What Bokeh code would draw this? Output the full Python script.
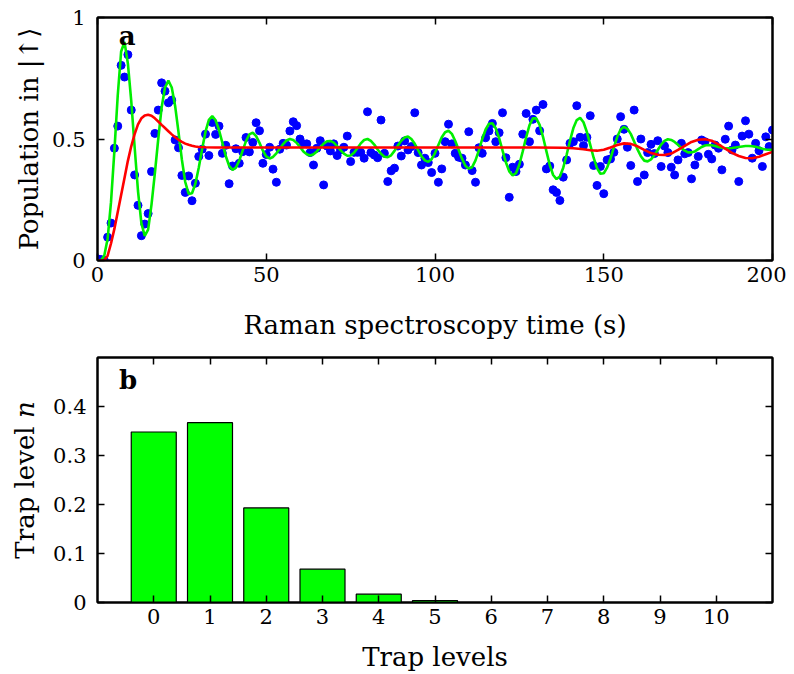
from bokeh.plotting import figure
from bokeh.layouts import column
from bokeh.models import FixedTicker, CustomJSTickFormatter, LinearAxis, Label, ColumnDataSource
from bokeh.embed import file_html
from bokeh.resources import INLINE

# ---------------- data: panel a ----------------
time_s = list(range(0, 201))
population = [
    0.007, 0.004, 0.001, 0.096, 0.154, 0.462, 0.553, 0.803, 0.755, 0.847,
    0.619, 0.352, 0.227, 0.102, 0.150, 0.193, 0.366, 0.523, 0.619, 0.731,
    0.697, 0.649, 0.660, 0.496, 0.464, 0.350, 0.280, 0.348, 0.246, 0.318,
    0.428, 0.458, 0.520, 0.432, 0.568, 0.519, 0.553, 0.441, 0.474, 0.316,
    0.389, 0.460, 0.400, 0.448, 0.506, 0.447, 0.486, 0.567, 0.534, 0.400,
    0.436, 0.466, 0.376, 0.322, 0.458, 0.482, 0.475, 0.533, 0.571, 0.555,
    0.500, 0.480, 0.480, 0.444, 0.393, 0.462, 0.493, 0.311, 0.471, 0.451,
    0.480, 0.432, 0.455, 0.466, 0.512, 0.407, 0.445, 0.445, 0.445, 0.421,
    0.612, 0.444, 0.434, 0.423, 0.578, 0.441, 0.325, 0.369, 0.380, 0.471,
    0.430, 0.492, 0.455, 0.469, 0.608, 0.444, 0.393, 0.421, 0.403, 0.362,
    0.441, 0.322, 0.377, 0.489, 0.561, 0.480, 0.441, 0.425, 0.421, 0.393,
    0.530, 0.370, 0.322, 0.464, 0.441, 0.505, 0.533, 0.564, 0.489, 0.526,
    0.608, 0.423, 0.260, 0.384, 0.366, 0.396, 0.520, 0.605, 0.489, 0.581,
    0.619, 0.534, 0.642, 0.377, 0.389, 0.291, 0.280, 0.247, 0.343, 0.414,
    0.482, 0.489, 0.637, 0.507, 0.473, 0.507, 0.596, 0.391, 0.309, 0.387,
    0.275, 0.414, 0.418, 0.445, 0.500, 0.592, 0.540, 0.466, 0.391, 0.619,
    0.325, 0.500, 0.352, 0.444, 0.478, 0.440, 0.493, 0.387, 0.471, 0.444,
    0.384, 0.352, 0.414, 0.482, 0.439, 0.444, 0.336, 0.393, 0.428, 0.496,
    0.489, 0.437, 0.418, 0.475, 0.462, 0.373, 0.499, 0.553, 0.455, 0.475,
    0.325, 0.512, 0.575, 0.520, 0.421, 0.482, 0.452, 0.387, 0.509, 0.469,
    0.537,
]

fit_t = list(range(0, 201))
fit_green = [
    0.000, 0.000, 0.020, 0.090, 0.240, 0.450, 0.680, 0.860, 0.899, 0.811,
    0.656, 0.467, 0.286, 0.154, 0.101, 0.127, 0.230, 0.360, 0.500, 0.630,
    0.712, 0.740, 0.712, 0.636, 0.528, 0.415, 0.323, 0.274, 0.277, 0.316,
    0.382, 0.459, 0.530, 0.579, 0.594, 0.577, 0.537, 0.484, 0.430, 0.390,
    0.373, 0.382, 0.411, 0.452, 0.491, 0.519, 0.526, 0.512, 0.484, 0.452,
    0.428, 0.420, 0.426, 0.441, 0.460, 0.479, 0.494, 0.500, 0.496, 0.484,
    0.467, 0.449, 0.437, 0.432, 0.437, 0.449, 0.466, 0.481, 0.491, 0.492,
    0.485, 0.471, 0.454, 0.440, 0.431, 0.432, 0.443, 0.462, 0.482, 0.496,
    0.500, 0.492, 0.477, 0.457, 0.439, 0.427, 0.425, 0.433, 0.451, 0.473,
    0.493, 0.506, 0.510, 0.500, 0.480, 0.454, 0.429, 0.412, 0.406, 0.417,
    0.442, 0.475, 0.507, 0.528, 0.534, 0.521, 0.492, 0.456, 0.419, 0.390,
    0.378, 0.384, 0.412, 0.453, 0.500, 0.539, 0.563, 0.565, 0.544, 0.504,
    0.453, 0.404, 0.367, 0.350, 0.359, 0.395, 0.449, 0.507, 0.557, 0.585,
    0.585, 0.558, 0.509, 0.450, 0.393, 0.352, 0.335, 0.346, 0.382, 0.435,
    0.493, 0.545, 0.578, 0.587, 0.569, 0.529, 0.476, 0.423, 0.380, 0.357,
    0.359, 0.382, 0.420, 0.466, 0.509, 0.539, 0.550, 0.542, 0.521, 0.490,
    0.457, 0.429, 0.411, 0.408, 0.416, 0.433, 0.455, 0.477, 0.492, 0.499,
    0.496, 0.488, 0.476, 0.463, 0.452, 0.445, 0.445, 0.449, 0.458, 0.467,
    0.473, 0.475, 0.474, 0.471, 0.467, 0.464, 0.462, 0.462, 0.463, 0.465,
    0.467, 0.469, 0.471, 0.471, 0.470, 0.468, 0.464, 0.460, 0.457, 0.456,
    0.456,
]

red_t = [0, 1, 2, 3, 4, 5, 6, 7, 8, 9, 10, 11, 12, 13, 14, 15, 16, 17, 18, 19,
         20, 21, 22, 23, 24, 25, 26, 27, 28, 29, 30, 32, 35, 40, 60, 80, 100,
         120, 130, 138, 141, 144, 146, 148, 150, 152, 154, 156, 158, 160, 162,
         164, 166, 168, 170, 172, 174, 176, 178, 180, 182, 184, 186, 188, 190,
         192, 194, 196, 198, 200]
red_v = [0.0, 0.0, 0.0, 0.02, 0.07, 0.13, 0.20, 0.27, 0.34, 0.41, 0.47, 0.52,
         0.56, 0.585, 0.597, 0.600, 0.596, 0.585, 0.572, 0.558, 0.545, 0.532,
         0.519, 0.507, 0.497, 0.488, 0.481, 0.476, 0.472, 0.469, 0.467, 0.466,
         0.465, 0.465, 0.465, 0.465, 0.465, 0.465, 0.465, 0.464, 0.462, 0.458,
         0.454, 0.452, 0.456, 0.465, 0.475, 0.482, 0.480, 0.470, 0.455, 0.442,
         0.435, 0.434, 0.440, 0.455, 0.472, 0.488, 0.497, 0.499, 0.493, 0.478,
         0.460, 0.443, 0.430, 0.422, 0.421, 0.427, 0.437, 0.447]

x_ticks_a = [0, 50, 100, 150, 200]
y_ticks_a = [0, 0.5, 1]

# ---------------- data: panel b ----------------
trap_levels = [0, 1, 2, 3, 4, 5]
trap_prob = [0.348, 0.367, 0.193, 0.068, 0.017, 0.004]
x_ticks_b = [0, 1, 2, 3, 4, 5, 6, 7, 8, 9, 10]
y_ticks_b = [0, 0.1, 0.2, 0.3, 0.4]

FONT = "DejaVu Serif"
TICK_SIZE = "21px"
LABEL_SIZE = "26px"


def style_axis(ax, ticks, labels=True):
    ax.ticker = FixedTicker(ticks=ticks)
    ax.minor_tick_line_color = None
    ax.major_tick_in = 7
    ax.major_tick_out = 0
    ax.major_tick_line_color = "black"
    ax.major_tick_line_width = 1.5
    ax.axis_line_color = "black"
    ax.axis_line_width = 2
    ax.major_label_text_font = FONT
    ax.major_label_text_color = "black"
    ax.axis_label_text_font = FONT
    ax.axis_label_text_font_style = "normal"
    ax.axis_label_text_color = "black"
    ax.axis_label_text_font_size = LABEL_SIZE
    if labels:
        ax.formatter = CustomJSTickFormatter(code="return String(tick);")
        ax.major_label_text_font_size = TICK_SIZE
    else:
        ax.formatter = CustomJSTickFormatter(code="return '';")
        ax.major_label_text_font_size = "0px"
        ax.major_label_standoff = 0


# ---------------- panel a ----------------
p1 = figure(width=786, height=342, x_range=(0, 200), y_range=(0, 1),
            output_backend="svg", toolbar_location=None,
            min_border_left=96, min_border_right=13, min_border_top=17,
            min_border_bottom=81)
p1.grid.visible = False
p1.outline_line_color = "black"
p1.outline_line_width = 2
p1.background_fill_color = "white"
p1.border_fill_color = "white"

style_axis(p1.xaxis[0], x_ticks_a)
style_axis(p1.yaxis[0], y_ticks_a)
p1.xaxis[0].axis_label = "Raman spectroscopy time (s)"
p1.yaxis[0].axis_label = "Population in |↑⟩"
p1.xaxis[0].major_label_standoff = 6
p1.xaxis[0].axis_label_standoff = 25
p1.yaxis[0].major_label_standoff = 12
p1.yaxis[0].axis_label_standoff = 5

ax_top = LinearAxis()
style_axis(ax_top, x_ticks_a, labels=False)
p1.add_layout(ax_top, "above")
ax_right = LinearAxis()
style_axis(ax_right, y_ticks_a, labels=False)
p1.add_layout(ax_right, "right")

src_pts = ColumnDataSource(data=dict(t=time_s, v=population))
p1.scatter("t", "v", source=src_pts, size=8, fill_color="#0000ff",
           line_color="#0000ff", marker="circle")
p1.line(fit_t, fit_green, line_color="#00ee00", line_width=2.6)
p1.line(red_t, red_v, line_color="#ff0000", line_width=2.6)

p1.add_layout(Label(x=6.3, y=0.985, text="a", text_font=FONT,
                    text_font_size="26px", text_font_style="bold",
                    text_baseline="top", text_color="black"))

# ---------------- panel b ----------------
p2 = figure(width=786, height=332, x_range=(-1, 11), y_range=(0, 0.5),
            output_backend="svg", toolbar_location=None,
            min_border_left=97, min_border_right=14, min_border_top=15,
            min_border_bottom=72)
p2.grid.visible = False
p2.outline_line_color = "black"
p2.outline_line_width = 2
p2.background_fill_color = "white"
p2.border_fill_color = "white"

style_axis(p2.xaxis[0], x_ticks_b)
style_axis(p2.yaxis[0], y_ticks_b)
p2.xaxis[0].axis_label = "Trap levels"
p2.yaxis[0].axis_label = "Trap level 𝑛"
p2.xaxis[0].major_label_standoff = 6
p2.xaxis[0].axis_label_standoff = 15
p2.yaxis[0].major_label_standoff = 11
p2.yaxis[0].axis_label_standoff = 10

ax_top2 = LinearAxis()
style_axis(ax_top2, x_ticks_b, labels=False)
p2.add_layout(ax_top2, "above")
ax_right2 = LinearAxis()
style_axis(ax_right2, y_ticks_b, labels=False)
p2.add_layout(ax_right2, "right")

src_bars = ColumnDataSource(data=dict(level=trap_levels, prob=trap_prob))
p2.vbar(x="level", top="prob", bottom=0, width=0.8, source=src_bars,
        fill_color="#00ff00", line_color="black", line_width=1.2)

p2.add_layout(Label(x=-0.62, y=0.484, text="b", text_font=FONT,
                    text_font_size="26px", text_font_style="bold",
                    text_baseline="top", text_color="black"))

layout = column(p1, p2, spacing=0)
open("out.html", "w").write(file_html(layout, INLINE))
